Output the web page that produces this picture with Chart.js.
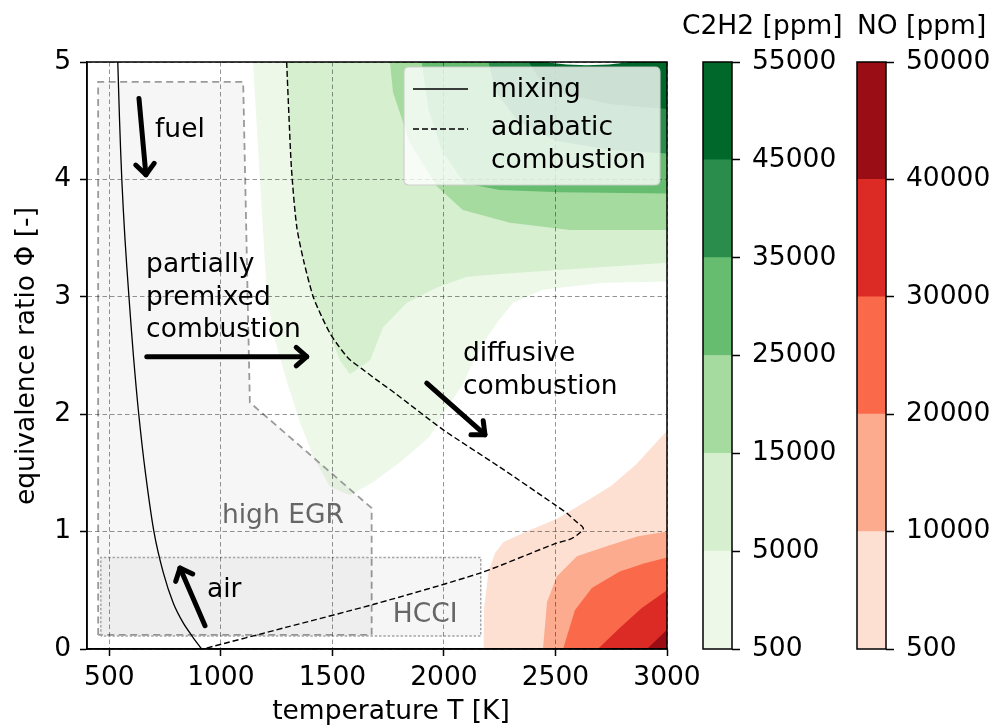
<!DOCTYPE html>
<html><head><meta charset="utf-8">
<script src="https://cdn.jsdelivr.net/npm/chart.js@4.4.1/dist/chart.umd.min.js"></script>
<style>
html,body{margin:0;padding:0;background:#fff;}
#wrap{position:relative;width:992px;height:725px;overflow:hidden;background:#fff;}
#wrap canvas{position:absolute;left:0;top:0;}
</style></head><body>
<div id="wrap">
<canvas id="main" width="992" height="725"></canvas>
<canvas id="cb1" width="992" height="725"></canvas>
<canvas id="cb2" width="992" height="725"></canvas>
</div>
<script>
// ---------- axis ticks ----------
const tempTicks = [500, 1000, 1500, 2000, 2500, 3000];
const phiTicks = [0, 1, 2, 3, 4, 5];

// ---------- contour levels / colours ----------
const c2h2Levels = [500, 5000, 15000, 25000, 35000, 45000, 55000];
const c2h2Colors = ['#edf8e9', '#d5efcf', '#a6db9f', '#66bd6f', '#2b8d4b', '#00682a'];
const noLevels = [500, 10000, 20000, 30000, 40000, 50000];
const noColors = ['#fee0d2', '#fcab8e', '#fa6a4a', '#dc2a25', '#9b0d15'];

// ---------- C2H2 filled contour regions [T, phi] (value >= level) ----------
const c2h2_500 = [[1144,5],[3000,5],[3000,3.13],[2713,3.12],[2444,3.06],[2310,2.95],[2238,2.78],[2170,2.59],[2117,2.39],[2085,2.25],[2014,2.06],[1937,1.81],[1816,1.61],[1682,1.42],[1579,1.31],[1489,1.38],[1413,1.64],[1386,1.78],[1355,1.93],[1296,2.28],[1243,2.63],[1207,3.0],[1175,4.01],[1144,5]];
const c2h2_5000 = [[1294,5],[3000,5],[3000,3.29],[2296,3.20],[2103,3.17],[1969,3.08],[1834,2.95],[1727,2.74],[1669,2.46],[1579,2.34],[1534,2.46],[1476,2.74],[1409,3.0],[1340,3.6],[1317,4.08],[1294,5]];
const c2h2_15000 = [[1758,5],[3000,5],[3000,3.57],[2565,3.57],[2296,3.63],[2085,3.74],[1969,3.94],[1848,4.31],[1772,4.74],[1758,5]];
const c2h2_25000 = [[1900,5],[3000,5],[3000,3.88],[2520,3.89],[2250,3.91],[2090,3.97],[1990,4.25],[1930,4.6],[1900,5]];
const c2h2_35000 = [[2200,5],[3000,5],[3000,4.22],[2750,4.25],[2500,4.33],[2330,4.5],[2230,4.75],[2200,5]];
const c2h2_45000 = [[2380,5],[3000,5],[3000,4.6],[2750,4.64],[2550,4.72],[2430,4.85],[2380,5]];
const c2h2_over = [[2444,5],[2834,5],[2740,4.978],[2640,4.972],[2550,4.978],[2444,5]];

// ---------- NO filled contour regions [T, phi] ----------
const no_500 = [[2178,0],[3000,0],[3000,1.86],[2860,1.57],[2750,1.39],[2640,1.26],[2507,1.11],[2380,1.01],[2266,0.91],[2230,0.82],[2200,0.66],[2180,0.35],[2178,0]];
const no_10000 = [[2444,0],[3000,0],[3000,1.0],[2870,0.96],[2722,0.87],[2596,0.79],[2507,0.62],[2462,0.40],[2444,0]];
const no_20000 = [[2534,0],[3000,0],[3000,0.78],[2900,0.73],[2788,0.66],[2663,0.52],[2587,0.33],[2534,0]];
const no_30000 = [[2690,0],[3000,0],[3000,0.50],[2887,0.35],[2789,0.18],[2690,0]];
const no_40000 = [[2910,0],[3000,0],[3000,0.165],[2910,0]];

// ---------- lines ----------
const mixingT   = [914, 875, 832, 787, 742, 700, 662, 632, 608, 588, 570, 556, 546, 538];
const mixingPhi = [0, 0.1, 0.22, 0.39, 0.65, 1.0, 1.5, 2.0, 2.5, 3.0, 3.5, 4.0, 4.5, 5.0];
const adiabaticT   = [1295, 1305, 1317, 1340, 1372, 1414, 1450, 1489, 1530, 1575, 1630, 1700, 1780, 1997, 2250, 2498, 2550, 2590, 2625, 2600, 2567, 2498, 2162, 1690, 1295, 920];
const adiabaticPhi = [5.0, 4.55, 4.08, 3.6, 3.3, 3.0, 2.84, 2.69, 2.575, 2.47, 2.39, 2.29, 2.18, 1.867, 1.55, 1.228, 1.158, 1.09, 1.03, 0.975, 0.936, 0.897, 0.647, 0.383, 0.186, 0];

// ---------- regime boxes ----------
const egrBox  = [[450,0.12],[450,4.83],[1100,4.83],[1130,2.1],[1676,1.2],[1676,0.12],[450,0.12]];
const hcciBox = [[462,0.11],[462,0.78],[2165,0.78],[2165,0.11],[462,0.11]];

// ---------- arrows [T0, phi0, T1, phi1] ----------
const fuelArrow = [633, 4.69, 664, 4.04];
const premixArrow = [668, 2.49, 1385, 2.49];
const diffArrow = [1923, 2.265, 2184, 1.825];
const airArrow = [929, 0.198, 817, 0.69];

// ---------- annotation labels ----------
const labelText = ['fuel', 'partially', 'premixed', 'combustion', 'diffusive', 'combustion', 'high EGR', 'air', 'HCCI'];
const labelT    = [705, 665, 665, 665, 2085, 2085, 1005, 938, 1771];
const labelPhi  = [4.42, 3.27, 2.99, 2.72, 2.51, 2.23, 1.13, 0.505, 0.29];
const labelGray = [false, false, false, false, false, false, true, false, true];

Chart.defaults.font.family = '"DejaVu Sans", sans-serif';
Chart.defaults.font.size = 26.5;
Chart.defaults.color = '#000';

const FONT = '26.5px "DejaVu Sans", sans-serif';
const pts = arr => arr.map(p => ({x: p[0], y: p[1]}));
const region = (arr, color) => ({type: 'line', data: pts(arr), fill: 'shape', backgroundColor: color, borderWidth: 0, pointRadius: 0, tension: 0});

const datasets = [];
[c2h2_500, c2h2_5000, c2h2_15000, c2h2_25000, c2h2_35000, c2h2_45000].forEach((a, i) => datasets.push(region(a, c2h2Colors[i])));
datasets.push(region(c2h2_over, '#ffffff'));
[no_500, no_10000, no_20000, no_30000, no_40000].forEach((a, i) => datasets.push(region(a, noColors[i])));
datasets.push(Object.assign(region(egrBox, 'rgba(0,0,0,0.035)'), {borderWidth: 1.8, borderColor: '#9a9a9a', borderDash: [7, 4.5]}));
datasets.push(Object.assign(region(hcciBox, 'rgba(0,0,0,0.035)'), {borderWidth: 1.5, borderColor: '#a5a5a5', borderDash: [2.5, 1.8]}));
datasets.push({type: 'line', data: mixingT.map((t, i) => ({x: t, y: mixingPhi[i]})), fill: false, borderColor: '#000', borderWidth: 1.3, pointRadius: 0, tension: 0.3});
datasets.push({type: 'line', data: adiabaticT.map((t, i) => ({x: t, y: adiabaticPhi[i]})), fill: false, borderColor: '#000', borderWidth: 1.4, borderDash: [6, 3], pointRadius: 0, tension: 0.25});
datasets.forEach((d, i) => { d.order = datasets.length - i; });

function drawArrow(ctx, x0, y0, x1, y1) {
  ctx.save();
  ctx.strokeStyle = '#000'; ctx.lineWidth = 5; ctx.lineCap = 'round'; ctx.lineJoin = 'round';
  ctx.beginPath(); ctx.moveTo(x0, y0); ctx.lineTo(x1, y1); ctx.stroke();
  const ang = Math.atan2(y1 - y0, x1 - x0), L = 14, w = 0.72;
  ctx.beginPath();
  ctx.moveTo(x1 - L * Math.cos(ang - w), y1 - L * Math.sin(ang - w));
  ctx.lineTo(x1, y1);
  ctx.lineTo(x1 - L * Math.cos(ang + w), y1 - L * Math.sin(ang + w));
  ctx.stroke();
  ctx.restore();
}

const overlay = {
  id: 'overlay',
  afterDraw(chart) {
    const {ctx, chartArea: a, scales: {x, y}} = chart;
    const px = v => x.getPixelForValue(v), py = v => y.getPixelForValue(v);
    ctx.save();
    [fuelArrow, premixArrow, diffArrow, airArrow].forEach(r => drawArrow(ctx, px(r[0]), py(r[1]), px(r[2]), py(r[3])));
    ctx.font = FONT; ctx.textBaseline = 'middle'; ctx.textAlign = 'left';
    labelText.forEach((t, i) => {
      ctx.fillStyle = labelGray[i] ? '#666666' : '#000';
      ctx.fillText(t, px(labelT[i]), py(labelPhi[i]));
    });
    // legend
    const lx = 404, ly = 67, lw = 256, lh = 118, r = 5;
    ctx.beginPath();
    ctx.moveTo(lx + r, ly); ctx.lineTo(lx + lw - r, ly); ctx.quadraticCurveTo(lx + lw, ly, lx + lw, ly + r);
    ctx.lineTo(lx + lw, ly + lh - r); ctx.quadraticCurveTo(lx + lw, ly + lh, lx + lw - r, ly + lh);
    ctx.lineTo(lx + r, ly + lh); ctx.quadraticCurveTo(lx, ly + lh, lx, ly + lh - r);
    ctx.lineTo(lx, ly + r); ctx.quadraticCurveTo(lx, ly, lx + r, ly); ctx.closePath();
    ctx.fillStyle = 'rgba(255,255,255,0.8)'; ctx.fill();
    ctx.strokeStyle = 'rgba(204,204,204,0.9)'; ctx.lineWidth = 1.2; ctx.stroke();
    ctx.strokeStyle = '#000'; ctx.lineWidth = 1.3;
    ctx.beginPath(); ctx.moveTo(413, 89); ctx.lineTo(468, 89); ctx.stroke();
    ctx.setLineDash([6, 3]);
    ctx.beginPath(); ctx.moveTo(413, 129); ctx.lineTo(468, 129); ctx.stroke();
    ctx.setLineDash([]);
    ctx.fillStyle = '#000';
    ctx.fillText('mixing', 491, 90);
    ctx.fillText('adiabatic', 491, 128);
    ctx.fillText('combustion', 491, 161);
    // frame
    ctx.strokeStyle = '#000'; ctx.lineWidth = 1.5;
    ctx.strokeRect(a.left, a.top, a.right - a.left, a.bottom - a.top);
    // axis titles
    ctx.textAlign = 'center';
    ctx.fillText('temperature T [K]', 391, 712);
    ctx.translate(27, 356); ctx.rotate(-Math.PI / 2);
    ctx.fillText('equivalence ratio \u03A6 [-]', 0, 0);
    ctx.restore();
  }
};

const gridCfg = {color: 'rgba(0,0,0,0.42)', lineWidth: 1, tickColor: '#000', tickLength: 7, tickWidth: 1.5, z: 1};
new Chart(document.getElementById('main'), {
  type: 'line',
  data: {datasets},
  options: {
    responsive: false, animation: false, devicePixelRatio: 1,
    layout: {padding: {left: 0, top: 62, right: 325, bottom: 0}},
    plugins: {legend: {display: false}, tooltip: {enabled: false}},
    scales: {
      x: {type: 'linear', min: 400, max: 3000,
        afterBuildTicks: s => { s.ticks = tempTicks.map(v => ({value: v})); },
        afterFit: s => { s.height = 76; },
        grid: gridCfg, border: {display: true, color: '#000', width: 1.5, dash: [4.5, 3], z: 2},
        ticks: {padding: 6, maxRotation: 0, autoSkip: false, callback: v => String(v)}},
      y: {type: 'linear', min: 0, max: 5,
        afterBuildTicks: s => { s.ticks = phiTicks.map(v => ({value: v})); },
        afterFit: s => { s.width = 87; },
        grid: gridCfg, border: {display: true, color: '#000', width: 1.5, dash: [4.5, 3], z: 2},
        ticks: {padding: 9, callback: v => String(v)}}
    }
  },
  plugins: [overlay]
});

function colorbar(id, levels, colors, left, title, titleX) {
  const BW = 29, AXW = 992 - left - BW;
  const frame = {
    id: 'frame' + id,
    afterDraw(chart) {
      const {ctx, chartArea: a} = chart;
      ctx.save();
      ctx.strokeStyle = '#000'; ctx.lineWidth = 1.5;
      ctx.strokeRect(a.left, a.top, a.right - a.left, a.bottom - a.top);
      ctx.font = FONT; ctx.fillStyle = '#000'; ctx.textBaseline = 'middle'; ctx.textAlign = 'left';
      ctx.fillText(title, titleX, 27);
      ctx.restore();
    }
  };
  new Chart(document.getElementById(id), {
    type: 'bar',
    data: {labels: [''], datasets: colors.map((c, i) => ({data: [[i, i + 1]], backgroundColor: c, borderWidth: 0, barPercentage: 1, categoryPercentage: 1, grouped: false}))},
    options: {
      responsive: false, animation: false, devicePixelRatio: 1,
      layout: {padding: {left: left, right: 0, top: 62, bottom: 76}},
      plugins: {legend: {display: false}, tooltip: {enabled: false}},
      scales: {
        x: {display: false},
        y: {position: 'right', min: 0, max: colors.length,
          afterBuildTicks: s => { s.ticks = levels.map((v, i) => ({value: i})); },
          afterFit: s => { s.width = AXW; },
          grid: {drawOnChartArea: false, tickLength: 8, tickWidth: 1.5, tickColor: '#000'},
          border: {display: false},
          ticks: {padding: 12, callback: v => String(levels[v])}}
      }
    },
    plugins: [frame]
  });
}
colorbar('cb1', c2h2Levels, c2h2Colors, 703, 'C2H2 [ppm]', 682);
colorbar('cb2', noLevels, noColors, 857, 'NO [ppm]', 857);
</script>
</body></html>
